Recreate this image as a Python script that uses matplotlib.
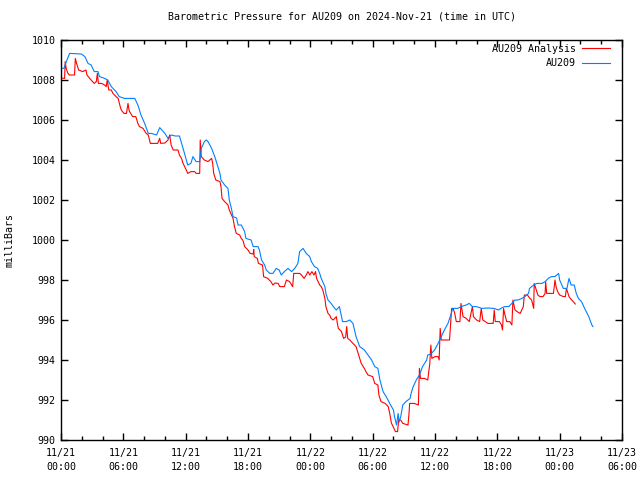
import matplotlib
matplotlib.use("Agg")
import matplotlib.pyplot as plt
from matplotlib.ticker import MultipleLocator

# hours since 2024-11-21 00:00 UTC, pressure in millibars
au_hours = [0.0, 0.3, 0.5, 0.83, 1.96, 2.3, 2.6, 2.9, 3.2, 3.56, 3.7, 4.2, 4.5, 4.84, 5.3, 5.6,
            6.1, 7.1, 7.4, 7.7, 8.05, 8.4, 8.7, 9.2, 9.5, 10.0, 10.3, 10.6, 11.0, 11.4, 11.75,
            12.06, 12.2, 12.5, 12.7, 13.0, 13.35, 13.5, 13.8, 14.0, 14.15, 14.5, 14.8, 14.95,
            15.3, 15.4, 15.75, 16.07, 16.2, 16.4, 16.56, 16.9, 17.04, 17.35, 17.68, 17.8, 18.3,
            18.5, 18.96, 19.1, 19.3, 19.6, 19.76, 20.1, 20.4, 20.72, 21.0, 21.2, 21.5, 21.85,
            22.2, 22.5, 22.8, 22.97, 23.3, 23.6, 23.94, 24.1, 24.4, 24.7, 24.9, 25.05, 25.4,
            25.5, 25.7, 26.0, 26.35, 26.5, 26.8, 27.1, 27.46, 27.8, 28.1, 28.4, 28.75, 29.2,
            29.55, 29.9, 30.2, 30.5, 30.7, 31.0, 31.3, 31.64, 32.0, 32.1, 32.3, 32.45, 32.55,
            32.7, 32.9, 33.2, 33.6, 33.7, 33.9, 34.2, 34.5, 34.8, 35.2, 35.3, 35.6, 35.96, 36.3,
            36.6, 36.9, 37.25, 37.57, 37.7, 38.2, 38.5, 39.0, 39.3, 39.6, 40.0, 40.5, 41.1,
            41.7, 42.1, 42.4, 42.7, 43.1, 43.4, 43.7, 44.0, 44.35, 44.66, 45.0, 45.1, 45.5,
            45.8, 46.3, 46.6, 46.9, 47.2, 47.55, 47.9, 48.0, 48.35, 48.7, 48.9, 49.1, 49.4,
            49.6, 49.8, 50.1, 50.4, 50.8, 51.1, 51.2]
au_mb = [1008.55, 1008.6, 1008.9, 1009.33, 1009.3, 1009.17, 1008.83, 1008.75, 1008.42, 1008.42,
         1008.17, 1008.08, 1008.0, 1007.67, 1007.42, 1007.17, 1007.08, 1007.08, 1006.75, 1006.25,
         1005.83, 1005.33, 1005.33, 1005.25, 1005.62, 1005.33, 1005.08, 1005.25, 1005.2, 1005.2,
         1004.58, 1004.0, 1003.75, 1003.83, 1004.17, 1003.92, 1003.92, 1004.58, 1004.92, 1005.0,
         1004.92, 1004.58, 1004.17, 1003.92, 1003.33, 1003.0, 1002.75, 1002.58, 1002.0, 1001.58,
         1001.17, 1001.1, 1000.75, 1000.75, 1000.42, 1000.08, 1000.0, 999.67, 999.67, 999.5,
         999.0, 998.75, 998.5, 998.33, 998.33, 998.58, 998.5, 998.25, 998.42, 998.58,
         998.42, 998.58, 998.83, 999.42, 999.58, 999.33, 999.17, 998.92, 998.67, 998.58,
         998.33, 998.08, 997.67, 997.33, 997.0, 996.83, 996.58, 996.5, 996.67, 995.92,
         995.92, 996.0, 995.83, 995.17, 994.67, 994.5, 994.25, 994.0, 993.67, 993.58,
         993.0, 992.42, 992.17, 991.83, 991.5, 991.17, 990.75, 991.33, 990.9, 991.17,
         991.75, 991.92, 992.08, 992.33, 992.67, 993.0, 993.25, 993.67, 994.0, 994.25,
         994.3, 994.5, 994.83, 995.17, 995.5, 995.83, 996.33, 996.58, 996.58, 996.67,
         996.75, 996.83, 996.67, 996.67, 996.58, 996.6, 996.58, 996.5, 996.6, 996.67,
         996.67, 996.83, 997.0, 997.0, 997.08, 997.17, 997.33, 997.58, 997.75, 997.83,
         997.83, 997.92, 998.08, 998.17, 998.17, 998.33, 998.0, 997.58, 997.58, 998.08,
         997.75, 997.75, 997.33, 997.08, 996.92, 996.58, 996.17, 995.75, 995.67]

an_hours = [0.0, 0.35, 0.4, 0.5, 0.67, 0.8, 1.3, 1.38, 1.5, 1.7, 2.1, 2.4, 2.5, 2.76, 2.9, 3.2,
            3.4, 3.5, 3.6, 3.9, 4.2, 4.35, 4.45, 4.6, 4.84, 5.0, 5.3, 5.5, 5.7, 5.8, 6.06, 6.3,
            6.45, 6.55, 6.6, 6.9, 7.2, 7.4, 7.55, 7.9, 8.2, 8.4, 8.6, 9.3, 9.5, 9.6, 10.0, 10.3,
            10.46, 10.6, 10.8, 11.26, 11.4, 11.6, 11.75, 11.9, 12.06, 12.2, 12.5, 12.87, 13.0,
            13.35, 13.4, 13.5, 13.8, 14.15, 14.5, 14.6, 14.7, 14.9, 15.3, 15.4, 15.5, 15.75,
            16.07, 16.2, 16.56, 16.7, 16.87, 17.2, 17.35, 17.5, 17.68, 18.0, 18.2, 18.5, 18.55,
            18.6, 18.9, 19.0, 19.4, 19.5, 19.9, 20.2, 20.4, 20.6, 20.9, 21.05, 21.5, 21.7, 22.0,
            22.3, 22.4, 22.97, 23.15, 23.4, 23.6, 23.77, 23.95, 24.15, 24.35, 24.5, 24.6, 24.75,
            24.9, 25.05, 25.2, 25.4, 25.5, 25.7, 25.86, 26.0, 26.2, 26.35, 26.5, 26.6, 26.7,
            27.0, 27.2, 27.4, 27.5, 27.6, 27.8, 28.1, 28.4, 28.6, 28.75, 28.9, 29.2, 29.35,
            29.55, 30.0, 30.2, 30.5, 30.6, 30.8, 31.2, 31.5, 31.64, 31.8, 32.2, 32.4, 32.5,
            32.7, 32.9, 33.4, 33.5, 33.56, 34.0, 34.4, 34.5, 34.6, 35.0, 35.3, 35.5, 35.6,
            35.7, 36.0, 36.3, 36.4, 36.5, 36.6, 37.4, 37.6, 37.75, 37.9, 38.05, 38.4, 38.5,
            38.7, 39.0, 39.3, 39.6, 39.7, 40.0, 40.3, 40.45, 40.6, 41.1, 41.6, 41.7, 41.8,
            42.2, 42.4, 42.5, 42.6, 42.7, 42.9, 43.2, 43.4, 43.5, 43.7, 43.9, 44.2, 44.5,
            44.6, 44.9, 45.1, 45.3, 45.5, 45.55, 45.7, 45.9, 46.1, 46.4, 46.6, 46.65, 46.75,
            47.4, 47.55, 47.65, 47.8, 48.0, 48.35, 48.55, 48.65, 48.8, 48.9, 49.1, 49.3, 49.5]
an_mb = [1008.1, 1008.08, 1008.92, 1008.58, 1008.33, 1008.25, 1008.25, 1009.08, 1008.83, 1008.5,
         1008.42, 1008.5, 1008.25, 1008.08, 1008.0, 1007.83, 1007.92, 1008.33, 1007.83, 1007.83,
         1007.75, 1007.67, 1008.0, 1007.5, 1007.5, 1007.33, 1007.17, 1007.08, 1006.67, 1006.5,
         1006.33, 1006.33, 1006.83, 1006.5, 1006.42, 1006.17, 1006.17, 1005.83, 1005.67, 1005.58,
         1005.33, 1005.25, 1004.83, 1004.83, 1005.08, 1004.83, 1004.85, 1005.0, 1005.25, 1004.75,
         1004.5, 1004.5, 1004.25, 1004.08, 1003.83, 1003.67, 1003.5, 1003.33, 1003.42, 1003.42,
         1003.33, 1003.33, 1005.0, 1004.17, 1004.0, 1003.92, 1004.08, 1003.83, 1003.33, 1003.0,
         1002.92, 1002.67, 1002.08, 1001.92, 1001.75, 1001.5, 1001.08, 1000.67, 1000.33, 1000.25,
         1000.08, 1000.0, 999.67, 999.5, 999.33, 999.3, 999.53, 999.17, 999.08, 998.83,
         998.75, 998.17, 998.08, 997.92, 997.75, 997.85, 997.83, 997.67, 997.67, 998.0,
         997.92, 997.67, 998.33, 998.33, 998.25, 998.08, 998.25, 998.42, 998.25, 998.42,
         998.25, 998.42, 998.08, 997.92, 997.75, 997.67, 997.5, 997.08, 996.67, 996.33,
         996.25, 996.08, 996.0, 996.08, 996.17, 995.83, 995.58, 995.42, 995.08, 995.15,
         995.67, 995.08, 995.0, 994.83, 994.67, 994.33, 994.08, 993.83, 993.58, 993.42,
         993.25, 993.17, 992.83, 992.75, 992.25, 991.92, 991.83, 991.67, 991.33, 990.85,
         990.42, 990.42, 991.0, 991.0, 990.83, 990.75, 991.33, 991.83, 991.83, 991.75,
         993.58, 993.08, 993.08, 993.0, 993.83, 994.75, 994.08, 994.17, 994.17, 994.0,
         995.58, 995.0, 995.0, 996.58, 996.58, 996.33, 995.92, 995.92, 996.83, 996.17,
         996.08, 995.92, 996.67, 996.17, 996.0, 995.92, 996.58, 996.0, 995.83, 995.83,
         996.5, 995.92, 995.92, 995.75, 995.5, 996.58, 996.33, 995.92, 995.92, 995.75,
         997.0, 996.5, 996.42, 996.33, 996.67, 997.25, 997.25, 997.1, 997.0, 996.58,
         997.83, 997.58, 997.25, 997.17, 997.17, 997.33, 997.92, 997.33, 997.33, 998.0,
         997.67, 997.42, 997.25, 997.17, 997.17, 997.58, 997.33, 997.17, 997.03, 996.92,
         996.8]

tick_hours = [0, 6, 12, 18, 24, 30, 36, 42, 48, 54]
tick_labels = ["11/21\n00:00", "11/21\n06:00", "11/21\n12:00", "11/21\n18:00",
               "11/22\n00:00", "11/22\n06:00", "11/22\n12:00", "11/22\n18:00",
               "11/23\n00:00", "11/23\n06:00"]

plt.rcParams['font.family'] = ['DejaVu Sans Mono']
plt.rcParams['font.size'] = 7.2

fig = plt.figure(figsize=(6.4, 4.8), dpi=100)
ax = fig.add_axes([61 / 640, 40 / 480, 561 / 640, 400 / 480])

ax.plot(an_hours, an_mb, color='#ff0000', lw=0.8, label='AU209 Analysis')
ax.plot(au_hours, au_mb, color='#0080ff', lw=0.8, label='AU209')

ax.set_xlim(0, 54)
ax.set_ylim(990, 1010)
ax.set_xticks(tick_hours)
ax.set_xticklabels(tick_labels, linespacing=1.45)
ax.xaxis.set_minor_locator(MultipleLocator(2))
ax.yaxis.set_major_locator(MultipleLocator(2))
ax.tick_params(which='both', direction='in', top=True, right=True, width=1.0, color='black')
ax.tick_params(which='major', length=5, pad=4)
ax.tick_params(axis='x', which='major', pad=6)
ax.tick_params(which='minor', length=3)
for sp in ax.spines.values():
    sp.set_linewidth(1.0)

ax.set_ylabel('milliBars', labelpad=12, fontsize=7.2)
ax.set_title('Barometric Pressure for AU209 on 2024-Nov-21 (time in UTC)', fontsize=7.2, pad=15)

ax.legend(loc='upper right', bbox_to_anchor=(0.988, 1.003), frameon=False, markerfirst=False,
          handlelength=2.8, handletextpad=0.6, labelspacing=0.45, borderaxespad=0.1,
          fontsize=7.2)

fig.savefig('out.png', dpi=100)
